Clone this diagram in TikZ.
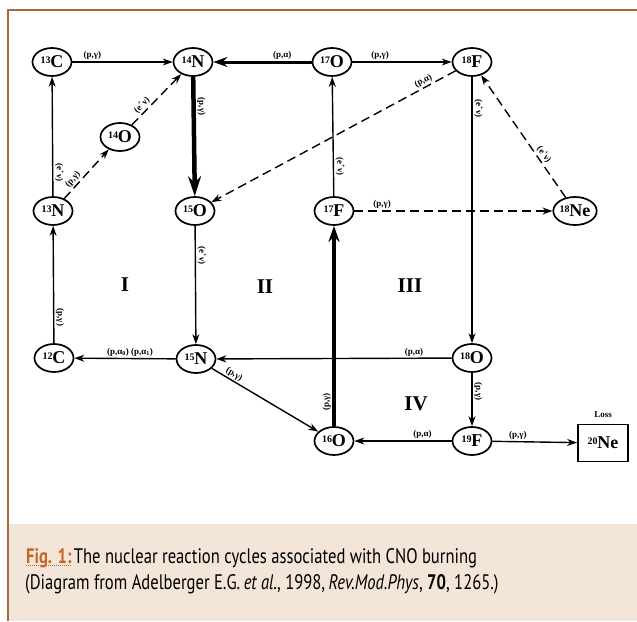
\documentclass[tikz,border=0pt]{standalone}
\usepackage{fontspec}
\setmainfont{Liberation Serif}
\newfontfamily\capfont[FakeStretch=0.79]{PT Sans}
\usetikzlibrary{arrows.meta,shapes.geometric}
\definecolor{framebrown}{HTML}{A8693F}
\definecolor{capbg}{HTML}{F3E6D9}
\definecolor{figorange}{HTML}{C4642A}
\newcommand\iso[2]{\raisebox{0.55ex}{\fontsize{10}{10}\selectfont #1}\kern-0.3pt#2}
\begin{document}
\begin{tikzpicture}[x=1pt,y=-1pt,
 nuc/.style={ellipse,draw,line width=1.7pt,minimum width=39pt,minimum height=28pt,inner sep=0pt,font=\fontsize{18}{18}\selectfont\bfseries},
 rx/.style={font=\fontsize{9}{9}\selectfont\bfseries,inner sep=1.5pt},
 arr/.style={line width=1.4pt,-{Stealth[length=10pt,width=7pt]}},
 darr/.style={arr,dash pattern=on 9pt off 5pt},
 thk/.style={line width=3pt,-{Stealth[length=14pt,width=10pt]}},
 xthk/.style={line width=4.5pt,-{Stealth[length=20pt,width=13pt]}},
 roman/.style={font=\fontsize{21}{21}\selectfont\bfseries},
 capstyle/.style={anchor=base west,inner sep=0pt,font=\capfont\fontsize{21}{21}\selectfont}]

\useasboundingbox (0,0) rectangle (637,621);
\fill[white] (0,0) rectangle (637,621);
\fill[capbg] (8,524) rectangle (637,621);
\draw[framebrown,line width=2pt] (8,621) -- (8,10) -- (637,10);

% nodes
\node[nuc] (c13) at (52,62) {\iso{13}{C}};
\node[nuc] (n14) at (193,62) {\iso{14}{N}};
\node[nuc] (o17) at (332,62) {\iso{17}{O}};
\node[nuc] (f18) at (472,62) {\iso{18}{F}};
\node[nuc] (o14) at (120,137) {\iso{14}{O}};
\node[nuc] (n13) at (53,211) {\iso{13}{N}};
\node[nuc] (o15) at (195,211) {\iso{15}{O}};
\node[nuc] (f17) at (334,211) {\iso{17}{F}};
\node[nuc] (ne18) at (575,211) {\iso{18}{Ne}};
\node[nuc] (c12) at (54,358) {\iso{12}{C}};
\node[nuc] (n15) at (196,359) {\iso{15}{N}};
\node[nuc] (o18) at (472,358) {\iso{18}{O}};
\node[nuc] (o16) at (334,441) {\iso{16}{O}};
\node[nuc] (f19) at (472,441) {\iso{19}{F}};
\node[draw,line width=1.8pt,minimum width=50pt,minimum height=37pt,inner sep=0pt,font=\fontsize{18}{18}\selectfont\bfseries] (ne20) at (603,443) {\iso{20}{Ne}};
\node[font=\fontsize{9}{9}\selectfont\bfseries] (loss) at (603,415) {Loss};

% roman numerals
\node[roman] (r1) at (125,285) {I};
\node[roman] (r2) at (265,287) {II};
\node[roman] (r3) at (410,286) {III};
\node[roman] (r4) at (416,404) {IV};

% connectors
\draw[arr] (c13) -- node[rx,pos=0.2,above]{(p,γ)} (n14);
\draw[thk] (o17) -- node[rx,pos=0.3,above]{(p,α)} (n14);
\draw[arr] (o17) -- node[rx,pos=0.28,above]{(p,γ)} (f18);
\draw[xthk] (n14) -- node[rx,pos=0.25,sloped,above]{(p,γ)} (o15);
\draw[arr] (n13) -- node[rx,pos=0.2,sloped,above]{(e\textsuperscript{+}ν)} (c13);
\draw[darr] (n13) -- node[rx,pos=0.3,sloped,above]{(p,γ)} (o14);
\draw[darr] (o14) -- node[rx,pos=0.3,sloped,above]{(e\textsuperscript{+}ν)} (n14);
\draw[darr] (f18) -- node[rx,pos=0.12,sloped,above]{(p,α)} (o15);
\draw[arr] (f17) -- node[rx,pos=0.25,sloped,above]{(e\textsuperscript{+}ν)} (o17);
\draw[darr] (f17) -- node[rx,pos=0.14,above]{(p,γ)} (ne18);
\draw[darr] (ne18) -- node[rx,pos=0.32,sloped,above]{(e\textsuperscript{+}ν)} (f18);
\draw[arr] (f18) -- node[rx,pos=0.12,sloped,above]{(e\textsuperscript{+}ν)} (o18);
\draw[arr] (o15) -- node[rx,pos=0.25,sloped,above]{(e\textsuperscript{+}ν)} (n15);
\draw[arr] (c12) -- node[rx,pos=0.22,sloped,above]{(p,γ)} (n13);
\draw[arr] (n15) -- node[rx,pos=0.45,above]{(p,α\textsubscript{0}) (p,α\textsubscript{1})} (c12);
\draw[arr] (o18) -- node[rx,pos=0.16,above]{(p,α)} (n15);
\draw[arr] (n15) -- node[rx,pos=0.18,sloped,above]{(p,γ)} (o16);
\draw[line width=3.5pt,-{Stealth[length=16pt,width=11pt]}] (o16) -- node[rx,pos=0.12,sloped,above]{(p,γ)} (f17);
\draw[arr] (f19) -- node[rx,pos=0.3,above]{(p,α)} (o16);
\draw[arr] (o18) -- node[rx,pos=0.35,sloped,above]{(p,γ)} (f19);
\draw[arr] (f19) -- node[rx,pos=0.3,above]{(p,γ)} (ne20);

% caption
\node[capstyle,text=figorange,font=\capfont\fontsize{21}{21}\selectfont\bfseries] (fig) at (26,563) {Fig. 1:};
\node[capstyle] (cap1) at ([xshift=2pt]fig.base east) {The nuclear reaction cycles associated with CNO burning};
\draw[figorange,line width=1pt,dash pattern=on 1pt off 1pt] ([yshift=-2.5pt]fig.base west) -- ([yshift=-2.5pt]fig.base east);
\node[capstyle] (cap2) at (25,589) {(Diagram from Adelberger E.G.\,\textit{et al.}, 1998,\,\textit{Rev.Mod.Phys}, \textbf{70}, 1265.)};
\end{tikzpicture}
\end{document}
